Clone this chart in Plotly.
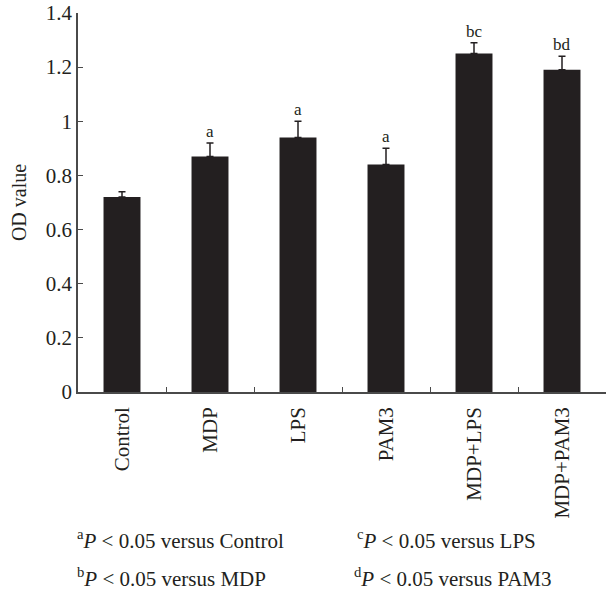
import plotly.graph_objects as go

categories = ["Control", "MDP", "LPS", "PAM3", "MDP+LPS", "MDP+PAM3"]
od_values = [0.72, 0.87, 0.94, 0.84, 1.25, 1.19]
od_errors = [0.02, 0.05, 0.06, 0.06, 0.04, 0.05]
sig_labels = ["", "a", "a", "a", "bc", "bd"]
y_ticks = [0, 0.2, 0.4, 0.6, 0.8, 1.0, 1.2, 1.4]
y_ticktext = ["0", "0.2", "0.4", "0.6", "0.8", "1", "1.2", "1.4"]
footnotes = [
    ("a", "Control"),
    ("b", "MDP"),
    ("c", "LPS"),
    ("d", "PAM3"),
]

FONT = "Liberation Serif"
BAR = "#231f20"
AXIS = "#4a4a4a"

fig = go.Figure()
fig.add_trace(go.Bar(
    x=categories, y=od_values, width=0.42,
    marker=dict(color=BAR, line=dict(width=0)),
    error_y=dict(type="data", array=od_errors, arrayminus=[0] * len(od_errors),
                 symmetric=False, color=BAR, thickness=1.5, width=3.5),
    showlegend=False,
))

for c, v, e, s in zip(categories, od_values, od_errors, sig_labels):
    if s:
        fig.add_annotation(x=c, y=v + e, text=s, showarrow=False, yanchor="bottom",
                           yshift=0, font=dict(family=FONT, size=17, color="#231f20"))

# footnotes
pos = [(75, 540), (75, 578), (355, 540), (352, 578)]
for (letter, name), (fx, fy) in zip(footnotes, pos):
    fig.add_annotation(
        xref="paper", yref="paper", x=(fx - 78) / 528, y=(392 - fy) / 379.3,
        xanchor="left", yanchor="middle", showarrow=False,
        text=f"<sup>{letter}</sup><i>P</i> &lt; 0.05 versus {name}",
        font=dict(family=FONT, size=21, color="#231f20"),
    )

fig.update_layout(
    width=606, height=592,
    margin=dict(l=78, r=0, t=13, b=200),
    plot_bgcolor="white", paper_bgcolor="white",
    font=dict(family=FONT, size=20, color="#231f20"),
)
fig.update_xaxes(
    showline=True, linecolor=AXIS, linewidth=1.5,
    ticks="inside", tickson="boundaries", ticklen=5, tickcolor=AXIS, tickwidth=1.2,
    tickangle=-90, tickfont=dict(family=FONT, size=21, color="#231f20"),
    ticklabelstandoff=5,
    showgrid=False, zeroline=False,
)
fig.update_yaxes(
    range=[0, 1.4], tickvals=y_ticks, ticktext=y_ticktext,
    showline=True, linecolor=AXIS, linewidth=1.5,
    ticks="inside", ticklen=5, tickcolor=AXIS, tickwidth=1.2,
    tickfont=dict(family=FONT, size=21, color="#231f20"),
    showgrid=False, zeroline=False,
    title=dict(text="OD value", font=dict(family=FONT, size=20, color="#231f20"), standoff=14),
)

fig.write_html("out.html")
